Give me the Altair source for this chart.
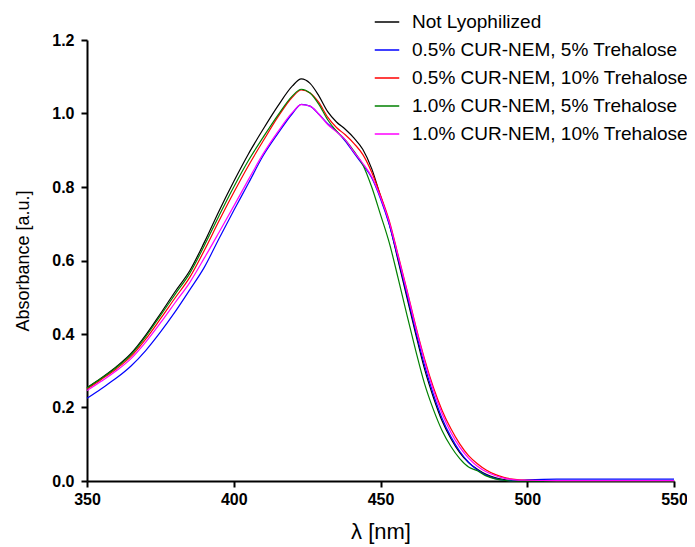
import altair as alt
import pandas as pd

wavelength = [350, 355, 360, 365, 370, 375, 380, 385, 390, 395, 400, 405, 410, 415, 420,
              423, 426, 429, 432, 435, 438, 441, 444, 447, 450, 453, 456, 459, 462, 465,
              468, 471, 474, 477, 480, 483, 486, 489, 492, 495, 500, 510, 520, 530, 540, 550]

not_lyo = [0.254, 0.281, 0.311, 0.347, 0.397, 0.455, 0.515, 0.572, 0.650, 0.735, 0.815, 0.890, 0.957, 1.020, 1.075,
           1.094, 1.082, 1.048, 1.005, 0.977, 0.957, 0.933, 0.902, 0.850, 0.775, 0.700, 0.600, 0.500, 0.400, 0.305,
           0.228, 0.163, 0.115, 0.077, 0.050, 0.032, 0.018, 0.009, 0.004, 0.001, 0.000, 0.000, 0.000, 0.000, 0.000, 0.000]

cur05_t5 = [0.225, 0.252, 0.280, 0.313, 0.355, 0.405, 0.460, 0.520, 0.582, 0.660, 0.736, 0.810, 0.885, 0.945, 1.000,
            1.025, 1.020, 0.998, 0.972, 0.952, 0.925, 0.892, 0.860, 0.825, 0.768, 0.697, 0.605, 0.508, 0.408, 0.315,
            0.236, 0.170, 0.120, 0.081, 0.051, 0.030, 0.016, 0.007, 0.002, 0.001, 0.003, 0.005, 0.005, 0.005, 0.005, 0.005]

cur05_t10 = [0.250, 0.277, 0.305, 0.339, 0.386, 0.441, 0.498, 0.554, 0.628, 0.708, 0.785, 0.858, 0.925, 0.990, 1.045,
             1.064, 1.056, 1.030, 0.990, 0.962, 0.942, 0.918, 0.888, 0.840, 0.778, 0.708, 0.615, 0.520, 0.422, 0.332,
             0.255, 0.192, 0.142, 0.101, 0.069, 0.047, 0.030, 0.018, 0.010, 0.005, 0.002, 0.001, 0.001, 0.001, 0.001, 0.001]

cur10_t5 = [0.253, 0.280, 0.309, 0.344, 0.393, 0.450, 0.508, 0.565, 0.641, 0.722, 0.800, 0.872, 0.935, 0.995, 1.048,
            1.066, 1.056, 1.025, 0.983, 0.952, 0.928, 0.897, 0.860, 0.800, 0.725, 0.648, 0.552, 0.452, 0.355, 0.265,
            0.195, 0.137, 0.094, 0.061, 0.038, 0.028, 0.014, 0.006, 0.002, 0.000, 0.000, 0.000, 0.000, 0.000, 0.000, 0.000]

cur10_t10 = [0.246, 0.272, 0.300, 0.333, 0.378, 0.430, 0.485, 0.540, 0.607, 0.677, 0.748, 0.820, 0.890, 0.950, 1.003,
             1.024, 1.020, 0.998, 0.970, 0.950, 0.928, 0.895, 0.864, 0.828, 0.772, 0.703, 0.612, 0.517, 0.418, 0.327,
             0.248, 0.183, 0.132, 0.092, 0.062, 0.040, 0.025, 0.015, 0.008, 0.004, 0.002, 0.001, 0.001, 0.001, 0.001, 0.001]

series_names = ["Not Lyophilized",
                "0.5% CUR-NEM, 5% Trehalose",
                "0.5% CUR-NEM, 10% Trehalose",
                "1.0% CUR-NEM, 5% Trehalose",
                "1.0% CUR-NEM, 10% Trehalose"]
series_values = [not_lyo, cur05_t5, cur05_t10, cur10_t5, cur10_t10]
series_colors = ["#000000", "#0000ff", "#ff0000", "#008000", "#ff00ff"]

rows = []
for order, (name, vals) in enumerate(zip(series_names, series_values)):
    for wl, v in zip(wavelength, vals):
        rows.append({"wl": wl, "abs": v, "series": name, "order": order})
df = pd.DataFrame(rows)

x_ticks = [350, 400, 450, 500, 550]
y_ticks = [0.0, 0.2, 0.4, 0.6, 0.8, 1.0, 1.2]

chart = alt.Chart(df).mark_line(interpolate="monotone", strokeWidth=1.2).encode(
    x=alt.X("wl:Q",
            scale=alt.Scale(domain=[350, 550], nice=False, zero=False),
            axis=alt.Axis(values=x_ticks, format="d", title="λ [nm]", labelFlush=False,
                          titleFontSize=22, titleFontWeight="normal", titlePadding=14,
                          labelPadding=4)),
    y=alt.Y("abs:Q",
            scale=alt.Scale(domain=[0, 1.2], nice=False),
            axis=alt.Axis(values=y_ticks, format=".1f", title="Absorbance [a.u.]",
                          titleFontSize=18, titleFontWeight="normal", titlePadding=19,
                          labelPadding=7)),
    color=alt.Color("series:N",
                    scale=alt.Scale(domain=series_names, range=series_colors),
                    legend=alt.Legend(title=None, orient="none", legendX=287, legendY=-31,
                                      symbolType="stroke", symbolSize=600, symbolStrokeWidth=1.5,
                                      labelFontSize=19, labelFont="Liberation Sans",
                                      labelColor="#000000", labelOffset=12, labelLimit=400,
                                      rowPadding=5, padding=0)),
    detail="series:N",
    order=alt.Order("order:Q"),
).properties(
    width=587, height=441,
    autosize=alt.AutoSizeParams(type="none"),
    padding={"left": 79, "top": 32, "right": 13, "bottom": 63},
).configure_view(stroke=None).configure_axis(
    grid=False,
    domainColor="#000000", domainWidth=2,
    tickColor="#000000", tickWidth=2, tickSize=6,
    labelFont="Liberation Sans", labelFontWeight="bold", labelFontSize=16, labelColor="#000000",
    titleFont="Liberation Sans", titleColor="#000000",
)

chart.save("out.html", embed_options={"renderer": "svg", "actions": False})
